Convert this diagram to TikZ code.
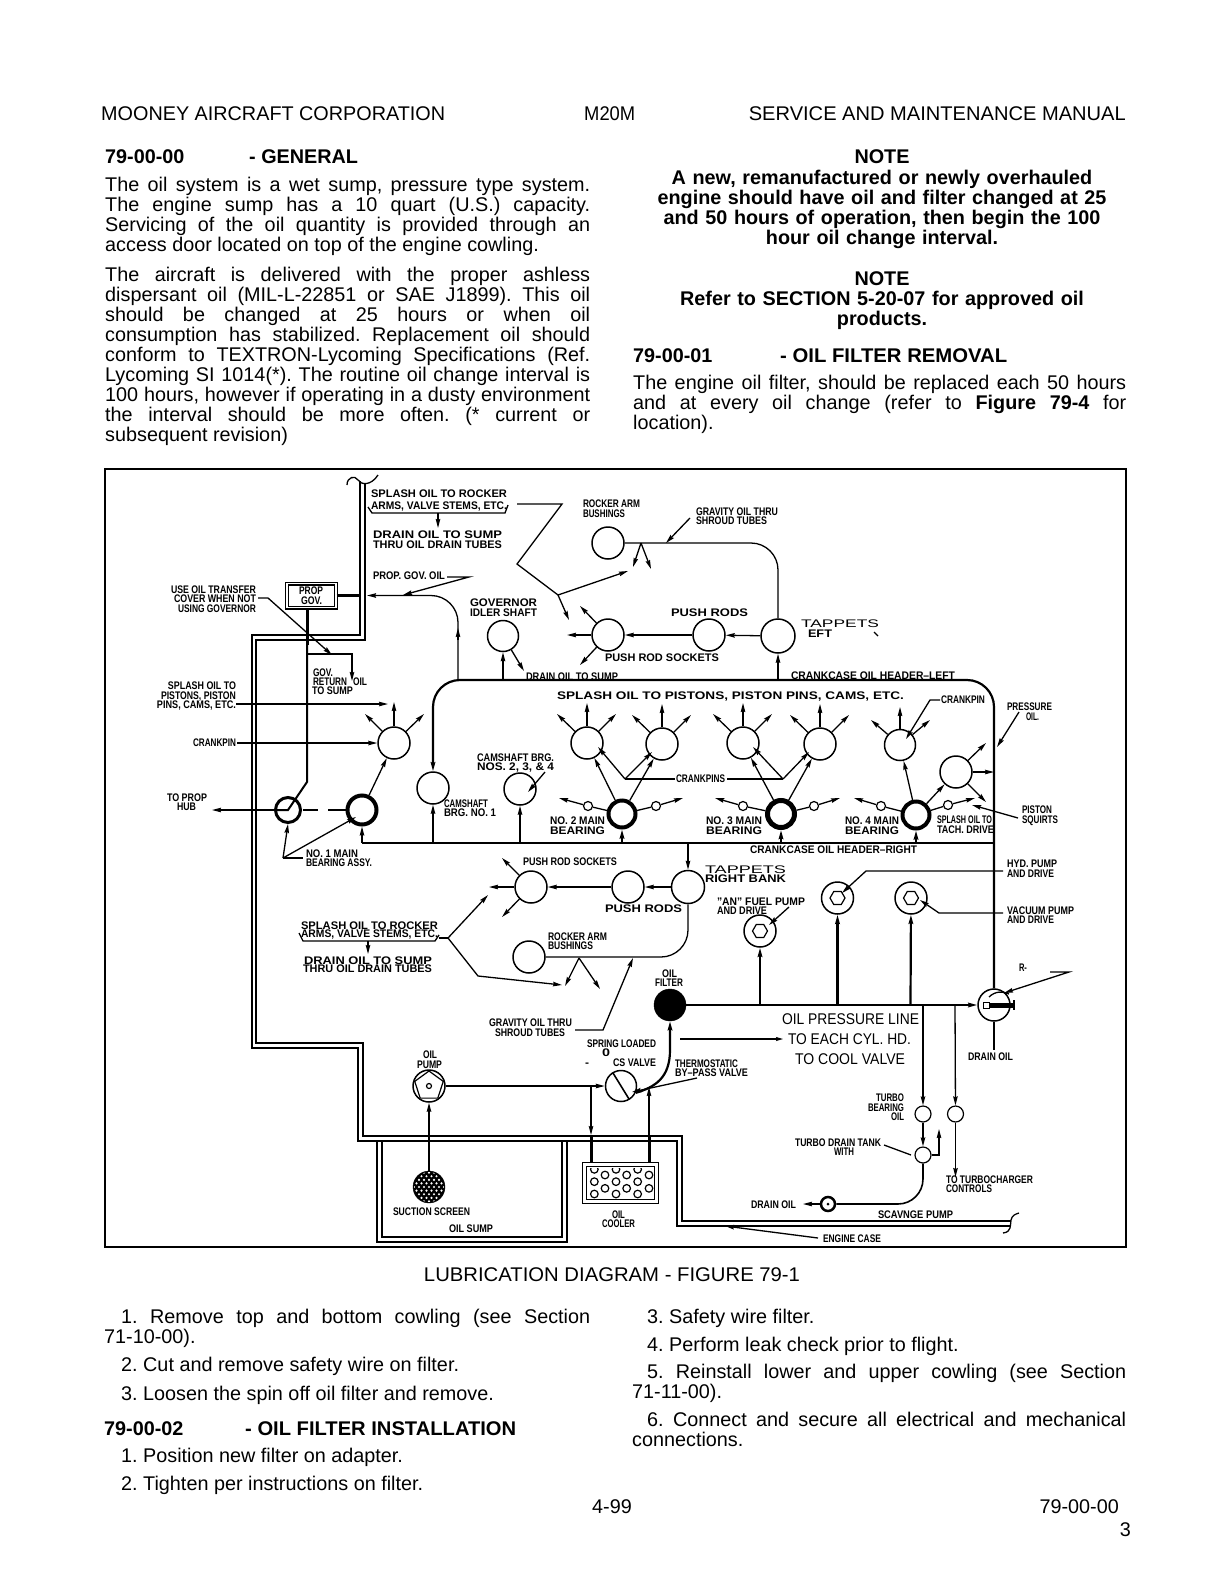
\documentclass[tikz,border=0pt]{standalone}
\usepackage{fontspec}
\usepackage{graphicx}
\setmainfont{Liberation Sans}
\usetikzlibrary{arrows.meta,shapes.geometric}
\tolerance=9999
\frenchspacing
\newcommand{\dlabel}[6][11]{%
 \pgfmathsetlengthmacro{\lbw}{(#4)-(#3)}%
 \pgfmathsetmacro{\lbx}{(#3+#4)/2}\pgfmathsetmacro{\lby}{#5+0.36*#1}%
 \node[inner sep=0,anchor=base,font=\fontsize{#1}{#1}\bfseries\selectfont] (#2) at (\lbx,\lby) {\resizebox{\lbw}{\height}{#6}};}
\newcommand{\rlabel}[6][15.5]{%
 \pgfmathsetlengthmacro{\lbw}{(#4)-(#3)}%
 \pgfmathsetmacro{\lbx}{(#3+#4)/2}\pgfmathsetmacro{\lby}{#5+0.36*#1}%
 \node[inner sep=0,anchor=base,font=\fontsize{#1}{#1}\selectfont] (#2) at (\lbx,\lby) {\resizebox{\lbw}{\height}{#6}};}
% three arrows leaving a circle
\newcommand{\burst}[1]{%
 \path (#1)+(0,-40) coordinate (#1u) (#1)+(-30,-29) coordinate (#1l) (#1)+(29,-29) coordinate (#1r);
 \draw[ar] (#1) -- (#1u); \draw[ar] (#1) -- (#1l); \draw[ar] (#1) -- (#1r);}
\tikzset{
 ar/.style={line width=1.3pt,-{Stealth[length=9pt,width=4.5pt,inset=1pt]}},
 pl/.style={line width=1.3pt},
 th/.style={line width=2.2pt},
 tha/.style={line width=2.2pt,-{Stealth[length=9pt,width=4.5pt,inset=1pt]}},
 wall/.style={line width=1.5pt},
 cir/.style={circle,draw,line width=1.5pt,inner sep=0,minimum size=#1},
 main/.style={circle,draw,line width=4pt,inner sep=0,minimum size=#1},
 sm/.style={circle,draw,line width=1.2pt,inner sep=0,minimum size=#1},
 hexa/.style={regular polygon,regular polygon sides=6,draw,line width=1.2pt,inner sep=0,minimum size=#1},
 plain/.style={inner sep=0,anchor=base west,font=\fontsize{19.8}{20}\selectfont},
 boldt/.style={plain,font=\fontsize{19.8}{20}\bfseries\selectfont},
 para/.style={inner sep=0,anchor=base west,text width=#1,align=justify,font=\fontsize{19.8}{20}\selectfont},
 note/.style={inner sep=0,anchor=base,text width=520pt,align=center,font=\fontsize{19.8}{20.2}\bfseries\selectfont},
}
\begin{document}
\begin{tikzpicture}[x=1pt,y=-1pt]
\useasboundingbox (0,0) rectangle (1220,1584);
\fill[white] (0,0) rectangle (1220,1584);
% ---------- page text, top
\node[plain] (hdA) at (101,121) {MOONEY AIRCRAFT CORPORATION};
\node[plain] (hdB) at (584,121) {\resizebox{51pt}{\height}{M20M}};
\node[plain,anchor=base east] (hdC) at (1126,121) {\resizebox{377pt}{\height}{SERVICE AND MAINTENANCE MANUAL}};
\node[boldt] (secA) at (105,163) {79-00-00};
\node[boldt] (secAt) at (249,163) {- GENERAL};
\node[para=485pt] (parA) at (105,191.5) {The oil system is a wet sump, pressure type system.\linebreak The engine sump has a 10 quart (U.S.) capacity.\linebreak Servicing of the oil quantity is provided through an\linebreak access door located on top of the engine cowling.};
\node[para=485pt] (parB) at (105,281.5) {\fontsize{19.8}{19.8}\selectfont The aircraft is delivered with the proper ashless\linebreak dispersant oil (MIL-L-22851 or SAE J1899). This oil\linebreak should be changed at 25 hours or when oil\linebreak consumption has stabilized. Replacement oil should\linebreak conform to TEXTRON-Lycoming Specifications (Ref.\linebreak Lycoming SI 1014(*). The routine oil change interval is\linebreak 100 hours, however if operating in a dusty environment\linebreak the interval should be more often. (* current or\linebreak subsequent revision)};
\node[note] (noteA) at (882,163) {NOTE};
\node[note] (noteAb) at (882,184) {A new, remanufactured or newly overhauled\\engine should have oil and filter changed at 25\\and 50 hours of operation, then begin the 100\\hour oil change interval.};
\node[note] (noteB) at (882,285) {NOTE};
\node[note] (noteBb) at (882,305.5) {Refer to SECTION 5-20-07 for approved oil\\products.};
\node[boldt] (secB) at (633,362) {79-00-01};
\node[boldt] (secBt) at (780,362) {\resizebox{227pt}{\height}{- OIL FILTER REMOVAL}};
\node[para=493pt] (parC) at (633,389) {The engine oil filter, should be replaced each 50 hours\linebreak and at every oil change (refer to \textbf{Figure 79-4} for\linebreak location).};
% ---------- frame
\draw[line width=2pt] (105,469) rectangle (1126,1247);
% ---------- engine case
\draw[wall] (360,481) -- (360,635) -- (252,635) -- (252,1048) -- (358,1048) -- (358,1141) -- (677,1141) -- (677,1226) -- (1011,1226);
\draw[wall] (365,483) -- (365,640) -- (256,640) -- (256,1043) -- (363,1043) -- (363,1136) -- (682,1136) -- (682,1221) -- (1011,1221);
\draw[pl] (347,485) .. controls (347,477) and (355,475) .. (358,480) .. controls (361,485) and (371,486) .. (378,475);
\draw[pl] (1003,1233) .. controls (1012,1232) and (1010,1225) .. (1011,1220) .. controls (1012,1215) and (1016,1214) .. (1019,1213);
% sump
\draw[wall] (377,1141) -- (377,1242) -- (567,1242) -- (567,1141);
\draw[wall] (382,1141) -- (382,1237) -- (562,1237) -- (562,1141);
% ---------- circles
\node[cir=32pt] (raU) at (608,543) {};
\node[cir=32pt] (psU) at (608,635) {};
\node[cir=32pt] (prU) at (709,635) {};
\node[cir=34pt] (tapL) at (778,636) {};
\node[cir=31pt] (gis) at (503,636) {};
\node[cir=32pt] (cA) at (394,743) {};
\node[cir=32pt] (camA) at (433,788) {};
\node[cir=32pt] (camB) at (520,789) {};
\node[cir=32pt] (cyA) at (587,743) {};
\node[cir=32pt] (cyB) at (662,744) {};
\node[cir=32pt] (cyC) at (743,743) {};
\node[cir=32pt] (cyD) at (820,744) {};
\node[cir=31pt] (cyE) at (900,745) {};
\node[cir=32pt] (cyF) at (956,772) {};
\node[main=25pt,line width=3pt] (mbA) at (288,810) {};
\node[main=29pt] (mbB) at (362,810) {};
\node[main=27pt] (mbC) at (622,814) {};
\node[main=27pt,line width=5pt] (mbD) at (781,814) {};
\node[main=27pt] (mbE) at (916,815) {};
\node[sm=9pt] (sA) at (588,806) {};
\node[sm=9pt] (sB) at (656,806) {};
\node[sm=9pt] (sC) at (743,806) {};
\node[sm=9pt] (sD) at (814,806) {};
\node[sm=9pt] (sE) at (881,806) {};
\node[sm=9pt] (sF) at (948,805) {};
\node[cir=32pt] (psR) at (531,887) {};
\node[cir=32pt] (prR) at (628,887) {};
\node[cir=33pt] (tapR) at (688,887) {};
\node[cir=32pt] (raR) at (529,957) {};
\node[cir=32pt] (an) at (760,931) {};
\node[hexa=15pt] (anH) at (760,931) {};
\node[cir=32pt] (hyd) at (837.5,898) {};
\node[hexa=15pt] (hydH) at (837.5,898) {};
\node[cir=32pt] (vac) at (911,898) {};
\node[hexa=15pt] (vacH) at (911,898) {};
\node[cir=32pt] (rv) at (994,1005) {};
\node[circle,fill=black,draw,inner sep=0,minimum size=32pt] (filt) at (670,1005) {};
\node[cir=32pt] (pump) at (429,1086) {};
\node[regular polygon,regular polygon sides=5,draw,line width=1.2pt,inner sep=0,minimum size=30pt] (pumpP) at (429,1086) {};
\node[sm=5pt] (pumpC) at (429,1086) {};
\node[circle,fill=black,draw,inner sep=0,minimum size=32pt] (scr) at (429,1187) {};
\node[cir=31pt] (sval) at (621,1086) {};
\node[sm=16pt] (tA) at (923,1114) {};
\node[sm=16pt] (tB) at (955.5,1114) {};
\node[sm=16pt] (tC) at (923,1155) {};
\node[circle,draw,line width=2.5pt,inner sep=0,minimum size=14pt] (scav) at (828,1204) {};
\node[circle,fill=black,inner sep=0,minimum size=3pt] (scavC) at (828,1204) {};
% screen mesh
\begin{scope}
\clip (429,1187) circle (15pt);
\foreach \i in {-3,...,3} \foreach \j in {-4,-2,0,2,4} {\fill[white] ({429+\i*5},{1187+\j*3.6}) circle (1.2pt);}
\foreach \i in {-3,...,3} \foreach \j in {-3,-1,1,3} {\fill[white] ({431.5+\i*5},{1187+\j*3.6}) circle (1.2pt);}
\end{scope}
% ---------- gov box
\node[rectangle,draw,double,double distance=1.6pt,line width=1.2pt,minimum width=49pt,minimum height=24pt,inner sep=0] (gov) at (311.5,595.5) {};
\coordinate (gA) at (361,595.5);
\draw[line width=3.5pt] (gov) -- (gA);
\coordinate (gB) at (307,645); \coordinate (gC) at (307,782); \coordinate (gD) at (288,810); \coordinate (gE) at (277,810);
\draw[line width=3pt] (gov.south -| gB) -- (gB);
\draw[line width=2pt] (gB) -- (gC) -- (gD) -- (gE);
\coordinate (gF) at (307,654); \coordinate (gG) at (352,654); \coordinate (gH) at (352,681);
\draw[ar] (gF) -- (gG) -- (gH);
\coordinate (hub) at (212,810);
\draw[ar] (mbA) -- (hub);
\coordinate (dA) at (303,810); \coordinate (dB) at (318,810); \coordinate (dC) at (328,810); \coordinate (dD) at (347,810);
\draw[pl] (dA) -- (dB); \draw[pl] (dC) -- (dD);
% use oil transfer leader
\coordinate (uA) at (258,598); \coordinate (uB) at (268,598); \coordinate (uC) at (332,655);
\draw[ar] (uA) -- (uB) -- (uC);
% header left and right
\coordinate (hTR) at (994,680); \coordinate (hTL) at (433,680);
\draw[tha,rounded corners=27pt] (rv.north) -- (hTR) -- (hTL) -- (camA.north);
\coordinate (hB) at (362,843); \coordinate (hBR) at (994,843);
\draw[line width=2.4pt] (hB) -- (hBR);
\draw[ar] (hB) -- (mbB);
% prop gov oil
\coordinate (pA) at (458,680); \coordinate (pB) at (458,595.5); \coordinate (pC) at (367,595.5); \coordinate (pD) at (458,640); \coordinate (pE) at (458,628);
\draw[ar,rounded corners=27pt] (pA) -- (pB) -- (pC);
\draw[ar] (pD) -- (pE);
\coordinate (oA) at (447,577); \coordinate (oB) at (469,577); \coordinate (oC) at (403,595);
\draw[ar] (oA) -- (oB) -- (oC);
% governor idler
\coordinate (gisA) at (503,680); \coordinate (gisB) at (524,671);
\draw[ar] (gisA) -- (gis); \draw[ar] (gis) -- (gisB);
% upper splash
\coordinate (brA) at (368,507); \coordinate (brB) at (372,513); \coordinate (brC) at (505,513); \coordinate (brD) at (508,505);
\draw[pl] (brA) -- (brB) -- (brC) -- (brD);
\coordinate (brE) at (438,513); \coordinate (brF) at (438,528);
\draw[ar] (brE) -- (brF);
\coordinate (zA) at (517,504); \coordinate (zB) at (562,504); \coordinate (zC) at (517,564); \coordinate (zD) at (558,595); \coordinate (zE) at (569,620); \coordinate (zF) at (628,571);
\draw[pl] (zA) -- (zB) -- (zC) -- (zD);
\draw[ar] (zD) -- (zE); \draw[ar] (zD) -- (zF);
% upper rocker line
\coordinate (rA) at (778,543); \coordinate (rB) at (641,543); \coordinate (rC) at (633,567); \coordinate (rD) at (651,569); \coordinate (rE) at (690,518); \coordinate (rF) at (666,543);
\draw[pl,rounded corners=27pt] (raU) -- (rA) -- (tapL);
\draw[ar] (rB) -- (rC); \draw[ar] (rB) -- (rD);
\draw[ar] (rE) -- (rF);
% push rods left bank
\draw[ar] (tapL) -- (prU); \draw[ar] (prU) -- (psU);
\coordinate (sA1) at (567,635); \coordinate (sA2) at (580,606); \coordinate (sA3) at (580,665);
\draw[ar] (psU) -- (sA1); \draw[ar] (psU) -- (sA2); \draw[ar] (psU) -- (sA3);
\coordinate (tlA) at (778,680);
\draw[ar] (tlA) -- (tapL);
% front circle
\coordinate (aA) at (236,704); \coordinate (aB) at (388,704); \coordinate (aC) at (237,743);
\draw[ar] (aA) -- (aB); \draw[ar] (aC) -- (cA);
\coordinate (aD) at (394,702); \coordinate (aE) at (365,714); \coordinate (aF) at (424,714);
\draw[ar] (cA) -- (aD); \draw[ar] (cA) -- (aE); \draw[ar] (cA) -- (aF);
\draw[ar] (mbB) -- (cA);
% no 1 main
\coordinate (nA) at (283,858); \coordinate (nB) at (303,858); \coordinate (nC) at (288,824); \coordinate (nD) at (356,817);
\draw[pl] (nA) -- (nB); \draw[ar] (nA) -- (nC); \draw[ar] (nA) -- (nD);
% camshaft
\coordinate (cmA) at (433,843); \coordinate (cmB) at (520,843); \coordinate (cmC) at (545,772); \coordinate (cmD) at (528,792);
\draw[ar] (cmA) -- (camA); \draw[ar] (cmB) -- (camB); \draw[ar] (cmC) -- (cmD);
% cylinders
\burst{cyA} \burst{cyB} \burst{cyC} \burst{cyD}
\coordinate (eU) at (900,707); \coordinate (eL) at (871,720); \coordinate (eR) at (930,720);
\draw[ar] (cyE) -- (eU); \draw[ar] (cyE) -- (eL); \draw[ar] (cyE) -- (eR);
\coordinate (epA) at (940,700); \coordinate (epB) at (930,700); \coordinate (epC) at (906,739);
\draw[ar] (epA) -- (epB) -- (epC);
\draw[ar] (mbC) -- (cyA); \draw[ar] (mbC) -- (cyB); \draw[ar] (mbD) -- (cyC); \draw[ar] (mbD) -- (cyD); \draw[ar] (mbE) -- (cyE); \draw[ar] (mbE) -- (cyF);
% crankpins
\coordinate (kA) at (625,779); \coordinate (kB) at (598,747); \coordinate (kC) at (652,752); \coordinate (kD) at (783,779); \coordinate (kE) at (753,747); \coordinate (kF) at (809,752);
\coordinate (kG) at (675,779); \coordinate (kH) at (727,779);
\draw[pl] (kA) -- (kG); \draw[pl] (kH) -- (kD);
\draw[ar] (kA) -- (kB); \draw[ar] (kA) -- (kC); \draw[ar] (kD) -- (kE); \draw[ar] (kD) -- (kF);
% bearing side ports
\coordinate (wA) at (559,798); \coordinate (wB) at (683,798); \coordinate (wC) at (715,798); \coordinate (wD) at (840,798); \coordinate (wE) at (854,798); \coordinate (wF) at (975,798);
\draw[pl] (mbC) -- (sA); \draw[ar] (sA) -- (wA);
\draw[pl] (mbC) -- (sB); \draw[ar] (sB) -- (wB);
\draw[pl] (mbD) -- (sC); \draw[ar] (sC) -- (wC);
\draw[pl] (mbD) -- (sD); \draw[ar] (sD) -- (wD);
\draw[pl] (mbE) -- (sE); \draw[ar] (sE) -- (wE);
\draw[pl] (mbE) -- (sF); \draw[ar] (sF) -- (wF);
\coordinate (fA) at (622,843); \coordinate (fB) at (781,843); \coordinate (fC) at (916,843);
\draw[ar,line width=2pt] (fA) -- (mbC); \draw[ar,line width=2pt] (fB) -- (mbD); \draw[ar,line width=2pt] (fC) -- (mbE);
% c6 arrows
\coordinate (xA) at (986,743); \coordinate (xB) at (994,772); \coordinate (xC) at (986,802);
\draw[ar] (cyF) -- (xA); \draw[ar] (cyF) -- (xB); \draw[ar] (cyF) -- (xC);
\coordinate (qA) at (1018,818); \coordinate (qB) at (972,805); \coordinate (qC) at (1019,712); \coordinate (qD) at (997,747);
\draw[ar] (qA) -- (qB); \draw[ar] (qC) -- (qD);
% right bank
\coordinate (trA) at (688,843);
\draw[ar] (trA) -- (tapR); \draw[ar] (tapR) -- (prR); \draw[ar] (prR) -- (psR);
\coordinate (sB1) at (489,887); \coordinate (sB2) at (502,858); \coordinate (sB3) at (502,917);
\draw[ar] (psR) -- (sB1); \draw[ar] (psR) -- (sB2); \draw[ar] (psR) -- (sB3);
\coordinate (rrA) at (688,957);
\draw[pl,rounded corners=27pt] (tapR) -- (rrA) -- (raR);
\coordinate (rrB) at (579,958); \coordinate (rrC) at (565,986); \coordinate (rrD) at (600,989);
\draw[ar] (rrB) -- (rrC); \draw[ar] (rrB) -- (rrD);
\coordinate (rrE) at (575,1030); \coordinate (rrF) at (603,1030); \coordinate (rrG) at (633,958);
\draw[ar] (rrE) -- (rrF) -- (rrG);
\coordinate (lbA) at (299,933); \coordinate (lbB) at (303,941); \coordinate (lbC) at (435,941); \coordinate (lbD) at (439,935);
\draw[pl] (lbA) -- (lbB) -- (lbC) -- (lbD);
\coordinate (lbE) at (368,941); \coordinate (lbF) at (368,954);
\draw[ar] (lbE) -- (lbF);
\coordinate (lzA) at (439,938); \coordinate (lzB) at (448,938); \coordinate (lzC) at (488,895); \coordinate (lzD) at (478,976); \coordinate (lzE) at (562,985);
\draw[pl] (lzA) -- (lzB);
\draw[ar] (lzB) -- (lzC); \draw[ar] (lzB) -- (lzD) -- (lzE);
% oil pressure line
\draw[tha] (filt) -- (rv);
\coordinate (jA) at (760,1004); \coordinate (jB) at (837.5,1004); \coordinate (jC) at (910.5,1004); \coordinate (jD) at (923,1004); \coordinate (jE) at (955,1004);
\draw[tha] (jA) -- (an); \draw[tha] (jB) -- (hyd); \draw[tha] (jC) -- (vac);
\draw[ar] (jD) -- (tA); \draw[ar] (jE) -- (tB);
\coordinate (lnA) at (789,907); \coordinate (lnB) at (769,925);
\draw[ar] (lnA) -- (lnB);
\coordinate (lnC) at (1003,871); \coordinate (lnD) at (866,871); \coordinate (lnE) at (842,893);
\draw[ar] (lnC) -- (lnD) -- (lnE);
\coordinate (lnF) at (1003,913); \coordinate (lnG) at (939,913); \coordinate (lnH) at (920,900);
\draw[ar] (lnF) -- (lnG) -- (lnH);
% R valve interior
\coordinate (rvA) at (988,1005); \coordinate (rvB) at (1013,1005); \coordinate (rvC) at (1014,1000); \coordinate (rvD) at (1014,1010);
\draw[line width=5pt] (rvA) -- (rvB);
\draw[pl] (rvC) -- (rvD);
\node[draw,fill=white,line width=1pt,inner sep=0,minimum size=6pt] (rvS) at (986,1005) {};
\draw[pl] (989,997) .. controls (995,991) and (1003,991) .. (1009,994);
\coordinate (rvE) at (1050,972); \coordinate (rvF) at (1069,972); \coordinate (rvG) at (1004,993);
\draw[ar] (rvE) -- (rvF) -- (rvG);
\coordinate (rvH) at (994,1050);
\draw[pl] (rv) -- (rvH);
% to each cyl
\coordinate (eaA) at (680,1039); \coordinate (eaB) at (783,1039);
\draw[line width=1.3pt,-{Stealth[length=7pt,width=4pt,inset=1pt]}] (eaA) -- (eaB);
% pump, valve, cooler
\draw[ar] (scr) -- (pump); \draw[ar] (pump) -- (sval);
\node[rectangle,draw,double,double distance=2.5pt,line width=1.4pt,fill=white,minimum width=72pt,minimum height=37pt,inner sep=0] (cool) at (620.5,1183) {};
\begin{scope}
\clip (588,1168) rectangle (653.5,1198);
\foreach \p/\q in {283/545,315/525,348/545,380/525,413/545,447/525,315/565,380/565,447/565,283/582,348/582,413/582,283/508,348/508,413/508} {\draw[line width=1.2pt] ({500+\p/3},{1000+\q/3}) circle (3.8pt);}
\end{scope}
\coordinate (cA1) at (591,1086); \coordinate (cA2) at (591,1135); \coordinate (cA3) at (591,1163);
\coordinate (cB1) at (649,1087); \coordinate (cB2) at (649,1135); \coordinate (cB3) at (649,1163);
\draw[ar] (cA1) -- (cA2); \draw[line width=3pt] (cA2) -- (cA3);
\draw[ar] (cB2) -- (cB1); \draw[line width=3pt] (cB2) -- (cB3);
\coordinate (vlA) at (613,1073); \coordinate (vlB) at (629,1099);
\draw[line width=1.6pt] (vlA) -- (vlB);
\draw[tha] (sval.-25) .. controls (655,1087) and (670,1078) .. (670,1050) -- (filt.south);
\coordinate (tbA) at (697,1078); \coordinate (tbB) at (632,1092);
\draw[ar] (tbA) -- (tbB);
% turbo
\draw[ar] (tA) -- (tC);
\coordinate (teA) at (939,1155); \coordinate (teB) at (939,1129);
\draw[ar] (tC) -- (teA) -- (teB);
\coordinate (tdA) at (923,1204);
\draw[line width=1.6pt,rounded corners=25pt] (tC) -- (tdA) -- (scav);
\coordinate (tfA) at (803,1204);
\draw[ar] (scav) -- (tfA);
\coordinate (tgA) at (955.5,1177);
\draw[ar] (tB) -- (tgA);
\coordinate (thA) at (884,1145); \coordinate (thB) at (911,1155);
\draw[pl] (thA) -- (thB);
\coordinate (tiA) at (818,1238); \coordinate (tiB) at (725,1226);
\draw[ar] (tiA) -- (tiB);
% ---------- diagram labels
\dlabel{a1}{371}{507}{494}{SPLASH OIL TO ROCKER}
\dlabel{a2}{371}{507}{506}{ARMS, VALVE STEMS, ETC.}
\dlabel{a3}{373}{502}{535}{DRAIN OIL TO SUMP}
\dlabel{a4}{373}{502}{545}{THRU OIL DRAIN TUBES}
\dlabel{a5}{373}{445}{576}{PROP. GOV. OIL}
\dlabel{a6}{171}{256}{590}{USE OIL TRANSFER}
\dlabel{a7}{174}{256}{599}{COVER WHEN NOT}
\dlabel{a8}{178}{256}{609}{USING GOVERNOR}
\dlabel{a9}{299}{323}{591}{PROP}
\dlabel{a10}{301}{322}{601}{GOV.}
\dlabel{a11}{313}{333}{673}{GOV.}
\dlabel{a12}{313}{347}{682}{RETURN}
\dlabel{a13}{353}{367}{682}{OIL}
\dlabel{a14}{312}{353}{691}{TO SUMP}
\dlabel{a15}{168}{236}{686}{SPLASH OIL TO}
\dlabel{a16}{161}{236}{696}{PISTONS, PISTON}
\dlabel{a17}{157}{236}{705}{PINS, CAMS, ETC.}
\dlabel{a18}{193}{236}{743}{CRANKPIN}
\dlabel{a19}{167}{207}{798}{TO PROP}
\dlabel{a20}{177}{196}{807}{HUB}
\dlabel{a21}{306}{358}{854}{NO. 1 MAIN}
\dlabel{a22}{306}{372}{863}{BEARING ASSY.}
\dlabel{a23}{470}{537}{603}{GOVERNOR}
\dlabel{a24}{470}{537}{613}{IDLER SHAFT}
\dlabel{a25}{526}{618}{677}{DRAIN OIL TO SUMP}
\dlabel{a26}{583}{640}{504}{ROCKER ARM}
\dlabel{a27}{583}{625}{514}{BUSHINGS}
\dlabel{a28}{696}{778}{512}{GRAVITY OIL THRU}
\dlabel{a29}{696}{767}{521}{SHROUD TUBES}
\dlabel{a30}{671}{748}{613}{PUSH RODS}
\dlabel{a31}{605}{719}{658}{PUSH ROD SOCKETS}
\rlabel[11]{a32}{801}{879}{624}{TAPPETS}
\dlabel{a33}{808}{832}{634}{EFT}
\coordinate (tkA) at (874,632); \coordinate (tkB) at (878,636);
\draw[pl] (tkA) -- (tkB);
\dlabel{a34}{791}{955}{676}{CRANKCASE OIL HEADER--LEFT}
\dlabel{a35}{557}{904}{696}{SPLASH OIL TO PISTONS, PISTON PINS, CAMS, ETC.}
\dlabel{a36}{941}{985}{700}{CRANKPIN}
\dlabel{a37}{1007}{1052}{707}{PRESSURE}
\dlabel{a38}{1026}{1039}{717}{OIL.}
\dlabel{a39}{444}{488}{804}{CAMSHAFT}
\dlabel{a40}{444}{496}{813}{BRG. NO. 1}
\dlabel{a41}{477}{554}{758}{CAMSHAFT BRG.}
\dlabel{a42}{477}{554}{767}{NOS. 2, 3, \& 4}
\dlabel{a43}{676}{725}{779}{CRANKPINS}
\dlabel{a44}{550}{605}{821}{NO. 2 MAIN}
\dlabel{a45}{550}{605}{831}{BEARING}
\dlabel{a46}{706}{762}{821}{NO. 3 MAIN}
\dlabel{a47}{706}{762}{831}{BEARING}
\dlabel{a48}{845}{899}{821}{NO. 4 MAIN}
\dlabel{a49}{845}{899}{831}{BEARING}
\dlabel{a50}{937}{992}{820}{SPLASH OIL TO}
\dlabel{a51}{937}{994}{830}{TACH. DRIVE}
\dlabel{a52}{1022}{1052}{810}{PISTON}
\dlabel{a53}{1022}{1058}{820}{SQUIRTS}
\dlabel{a54}{750}{917}{850}{CRANKCASE OIL HEADER--RIGHT}
\dlabel{a55}{523}{617}{862}{PUSH ROD SOCKETS}
\dlabel{a56}{605}{682}{909}{PUSH RODS}
\rlabel[11]{a57}{705}{786}{870}{TAPPETS}
\dlabel{a58}{705}{786}{879}{RIGHT BANK}
\dlabel{a59}{717}{805}{902}{"AN" FUEL PUMP}
\dlabel{a60}{717}{767}{911}{AND DRIVE}
\dlabel{a61}{1007}{1057}{864}{HYD. PUMP}
\dlabel{a62}{1007}{1054}{874}{AND DRIVE}
\dlabel{a63}{1007}{1074}{911}{VACUUM PUMP}
\dlabel{a64}{1007}{1054}{920}{AND DRIVE}
\dlabel{a65}{301}{438}{926}{SPLASH OIL TO ROCKER}
\dlabel{a66}{301}{438}{934}{ARMS, VALVE STEMS, ETC.}
\dlabel{a67}{304}{432}{961}{DRAIN OIL TO SUMP}
\dlabel{a68}{303}{432}{969}{THRU OIL DRAIN TUBES}
\dlabel{a69}{548}{607}{937}{ROCKER ARM}
\dlabel{a70}{548}{593}{946}{BUSHINGS}
\dlabel{a71}{489}{572}{1023}{GRAVITY OIL THRU}
\dlabel{a72}{495}{565}{1033}{SHROUD TUBES}
\dlabel{a73}{662}{677}{974}{OIL}
\dlabel{a74}{655}{683}{983}{FILTER}
\dlabel{a75}{587}{656}{1044}{SPRING LOADED}
\dlabel{a76}{602}{610}{1053}{0}
\dlabel{a76b}{585}{589}{1063}{-}
\dlabel{a77}{613}{656}{1063}{CS VALVE}
\dlabel{a78}{675}{738}{1064}{THERMOSTATIC}
\dlabel{a79}{675}{748}{1073}{BY--PASS VALVE}
\dlabel{a80}{423}{437}{1055}{OIL}
\dlabel{a81}{417}{442}{1065}{PUMP}
\dlabel{a82}{393}{470}{1212}{SUCTION SCREEN}
\dlabel{a83}{449}{493}{1229}{OIL SUMP}
\dlabel{a84}{612}{625}{1215}{OIL}
\dlabel{a85}{602}{635}{1224}{COOLER}
\rlabel{a86}{782}{919}{1019}{OIL PRESSURE LINE}
\rlabel{a87}{788}{911}{1039}{TO EACH CYL. HD.}
\rlabel{a88}{795}{905}{1059}{TO COOL VALVE}
\dlabel{a89}{1019}{1027}{968}{R-}
\dlabel{a90}{968}{1013}{1057}{DRAIN OIL}
\dlabel{a91}{876}{904}{1098}{TURBO}
\dlabel{a92}{868}{904}{1108}{BEARING}
\dlabel{a93}{891}{904}{1117}{OIL}
\dlabel{a94}{795}{881}{1143}{TURBO DRAIN TANK}
\dlabel{a95}{834}{854}{1152}{WITH}
\dlabel{a96}{946}{1033}{1180}{TO TURBOCHARGER}
\dlabel{a97}{946}{992}{1189}{CONTROLS}
\dlabel{a98}{751}{796}{1205}{DRAIN OIL}
\dlabel{a99}{878}{953}{1215}{SCAVNGE PUMP}
\dlabel{a100}{823}{881}{1239}{ENGINE CASE}
% ---------- page text, bottom
\node[plain,anchor=base] (cap) at (612,1281) {\resizebox{376pt}{\height}{LUBRICATION DIAGRAM - FIGURE 79-1}};
\node[para=486pt] (b1) at (104,1323) {\hspace*{17pt}1. Remove top and bottom cowling (see Section\linebreak 71-10-00).};
\node[plain] (b2) at (121,1371) {2. Cut and remove safety wire on filter.};
\node[plain] (b3) at (121,1400) {3. Loosen the spin off oil filter and remove.};
\node[boldt] (b4) at (104,1435) {79-00-02};
\node[boldt] (b4t) at (245,1435) {\resizebox{271pt}{\height}{- OIL FILTER INSTALLATION}};
\node[plain] (b5) at (121,1462) {1. Position new filter on adapter.};
\node[plain] (b6) at (121,1490) {2. Tighten per instructions on filter.};
\node[plain] (d1) at (647,1323) {3. Safety wire filter.};
\node[plain] (d2) at (647,1351) {4. Perform leak check prior to flight.};
\node[para=494pt] (d3) at (632,1378) {\hspace*{15pt}5. Reinstall lower and upper cowling (see Section\linebreak 71-11-00).};
\node[para=494pt] (d4) at (632,1426) {\hspace*{15pt}6. Connect and secure all electrical and mechanical\linebreak connections.};
\node[plain] (f1) at (592,1513) {4-99};
\node[plain,anchor=base east] (f2) at (1119,1513) {79-00-00};
\node[plain,anchor=base east] (f3) at (1131,1536) {3};
\end{tikzpicture}
\end{document}
